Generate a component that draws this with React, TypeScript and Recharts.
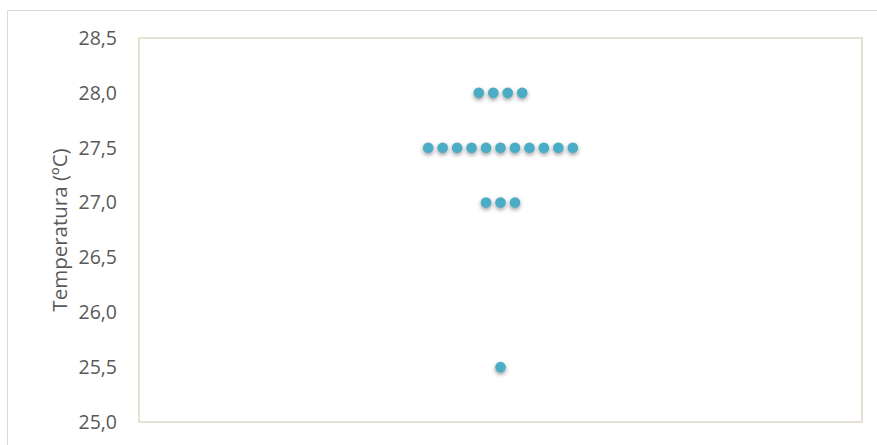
import React from 'react';
import { ScatterChart, Scatter, XAxis, YAxis, ReferenceArea } from 'recharts';

// temperature readings (ºC)
const readings = [
  28.0, 28.0, 28.0, 28.0,
  27.5, 27.5, 27.5, 27.5, 27.5, 27.5, 27.5, 27.5, 27.5, 27.5, 27.5,
  27.0, 27.0, 27.0,
  25.5,
];
const yTicks = [25.0, 25.5, 26.0, 26.5, 27.0, 27.5, 28.0, 28.5];
const centre = 25;

// dot plot: readings with the same value are spread side by side around the centre
const counts: Record<string, number> = {};
readings.forEach((r) => (counts[r] = (counts[r] || 0) + 1));
const seen: Record<string, number> = {};
const points = readings.map((r) => {
  const i = seen[r] || 0;
  seen[r] = i + 1;
  return { x: centre + i - (counts[r] - 1) / 2, y: r };
});

const FONT = '"Open Sans", sans-serif';

const Dot = (props: any) => (
  <circle
    cx={props.cx}
    cy={props.cy}
    r={5.3}
    fill="#4BACC6"
    style={{ filter: 'drop-shadow(0px 2.5px 2px rgba(0,0,0,0.4))' }}
  />
);

export default function App() {
  return (
    <div style={{ position: 'absolute', left: 0, top: 0, width: 877, height: 445, overflow: 'hidden', background: '#fff' }}>
      <div
        style={{
          position: 'absolute',
          left: 7,
          top: 10,
          width: 890,
          height: 460,
          border: '1px solid #d9d9d9',
        }}
      />
      <div style={{ position: 'absolute', left: 0, top: 0 }}>
        <ScatterChart width={877} height={445} margin={{ top: 38, right: 15, bottom: 23, left: 0 }}>
          <XAxis type="number" dataKey="x" domain={[0, 50]} hide />
          <YAxis
            type="number"
            dataKey="y"
            domain={[25, 28.5]}
            ticks={yTicks}
            width={139}
            axisLine={false}
            tickLine={false}
            tickSize={6}
            tickMargin={16}
            tickFormatter={(v: number) => v.toFixed(1).replace('.', ',')}
            tick={{ fill: '#595959', fontSize: 19.5, fontFamily: FONT }}
            label={{
              value: 'Temperatura (ºC)',
              angle: -90,
              position: 'insideLeft',
              offset: 60,
              style: { fill: '#595959', fontSize: 20.5, fontFamily: FONT, textAnchor: 'middle' },
            }}
          />
          <ReferenceArea x1={0} x2={50} y1={25} y2={28.5} fill="none" stroke="#DDD9C3" strokeWidth={1.5} />
          <Scatter data={points} shape={<Dot />} isAnimationActive={false} />
        </ScatterChart>
      </div>
    </div>
  );
}
